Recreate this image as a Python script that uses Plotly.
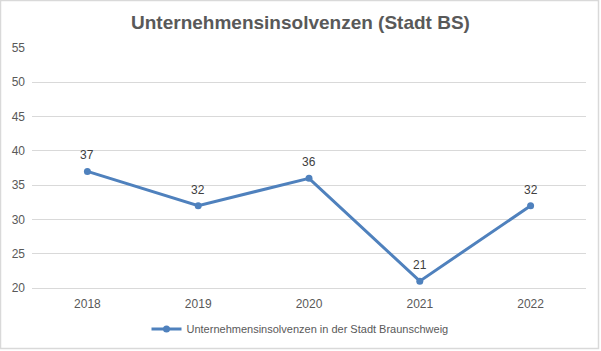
import plotly.graph_objects as go

years = ["2018", "2019", "2020", "2021", "2022"]
values = [37, 32, 36, 21, 32]
y_ticks = [20, 25, 30, 35, 40, 45, 50, 55]
series_name = "Unternehmensinsolvenzen in der Stadt Braunschweig"
title_text = "Unternehmensinsolvenzen (Stadt BS)"

W, H = 601, 351
ml, mr, mt, mb = 32, 15, 48, 63
pw, ph = W - ml - mr, H - mt - mb

fig = go.Figure()
fig.add_trace(go.Scatter(
    x=years, y=values, mode="lines+markers",
    name=series_name,
    line=dict(color="#4F81BD", width=3),
    marker=dict(size=7, color="#4F81BD"),
    cliponaxis=False,
))
for i, v in enumerate(values):
    fig.add_annotation(x=i, y=v, text=str(v), showarrow=False, yshift=16,
                       font=dict(family="Liberation Sans, Arial", size=12, color="#404040"))

fig.update_layout(
    width=W, height=H,
    margin=dict(l=ml, r=mr, t=mt, b=mb, autoexpand=False),
    paper_bgcolor="white", plot_bgcolor="white",
    title=dict(text="<b>" + title_text + "</b>", x=0.5, xanchor="center",
               xref="container",
               y=1 - 22 / H, yanchor="middle",
               font=dict(family="Liberation Sans, Arial", size=19, color="#595959")),
    xaxis=dict(type="category", range=[-0.5, 4.5], showgrid=False,
               showline=True, linecolor="#D9D9D9", linewidth=1, ticks="",
               ticklabelstandoff=5,
               tickfont=dict(family="Liberation Sans, Arial", size=12, color="#595959")),
    yaxis=dict(range=[20, 55], tickvals=y_ticks, showgrid=True, gridcolor="#D9D9D9",
               zeroline=False, ticks="", ticklabelstandoff=6,
               tickfont=dict(family="Liberation Sans, Arial", size=12, color="#595959")),
    showlegend=True,
    legend=dict(orientation="h", x=(300 - ml) / pw, xanchor="center", y=(288 - 329) / ph,
                yanchor="middle",
                font=dict(family="Liberation Sans, Arial", size=11, color="#595959")),
)

fig.add_shape(type="rect", xref="paper", yref="paper",
              x0=(0.5 - ml) / pw, x1=(W - 2.5 - ml) / pw,
              y0=-(mb - 2.5) / ph, y1=1 + (mt - 0.5) / ph,
              line=dict(color="#D9D9D9", width=1.5), layer="below")

fig.write_html("out.html")
